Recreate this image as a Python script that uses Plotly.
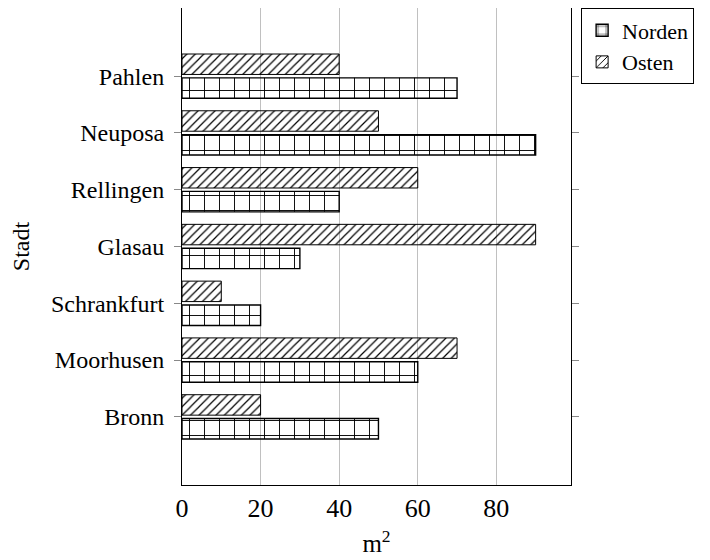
import plotly.graph_objects as go

cities = ["Bronn", "Moorhusen", "Schrankfurt", "Glasau", "Rellingen", "Neuposa", "Pahlen"]
norden = [50, 60, 20, 30, 40, 90, 70]
osten = [20, 70, 10, 90, 60, 50, 40]
x_ticks = [0, 20, 40, 60, 80]

FONT = "Liberation Serif"

fig = go.Figure()
fig.add_trace(go.Bar(
    name="Norden", y=cities, x=norden, orientation="h",
    width=0.36, offset=-0.39,
    marker=dict(color="black", line=dict(color="black", width=1.4),
                pattern=dict(shape="+", size=15, solidity=0.12, fillmode="replace")),
))
fig.add_trace(go.Bar(
    name="Osten", y=cities, x=osten, orientation="h",
    width=0.36, offset=0.03,
    marker=dict(color="black", line=dict(color="black", width=1),
                pattern=dict(shape="/", size=6, solidity=0.2, fillmode="replace")),
))

fig.update_layout(
    width=710, height=560,
    barmode="overlay",
    plot_bgcolor="white", paper_bgcolor="white",
    margin=dict(l=174, r=147, t=0, b=83, autoexpand=False),
    font=dict(family=FONT, color="black"),
    showlegend=True,
    legend=dict(x=1.026, y=0.999, xanchor="left", yanchor="top",
                bordercolor="black", borderwidth=1, bgcolor="white",
                font=dict(family=FONT, size=22), tracegroupgap=0),
    xaxis=dict(range=[0, 99], tickvals=x_ticks, ticks="", showgrid=True,
               gridcolor="#c0c0c0", gridwidth=1, zeroline=False,
               showline=True, linecolor="black", linewidth=1, mirror=True,
               tickfont=dict(family=FONT, size=26),
               title=dict(text="m<sup>2</sup>", font=dict(family=FONT, size=25), standoff=12),
               automargin=False),
    yaxis=dict(type="category", categoryorder="array", categoryarray=cities,
               range=[-1.2, 7.2], ticks="outside", ticklen=7, tickcolor="#888888",
               ticklabelstandoff=5,
               showgrid=False, zeroline=False,
               showline=True, linecolor="black", linewidth=1, mirror="ticks",
               tickfont=dict(family=FONT, size=24),
               title=dict(text="Stadt", font=dict(family=FONT, size=24), standoff=20),
               automargin=False),
)

fig.write_html("out.html")
